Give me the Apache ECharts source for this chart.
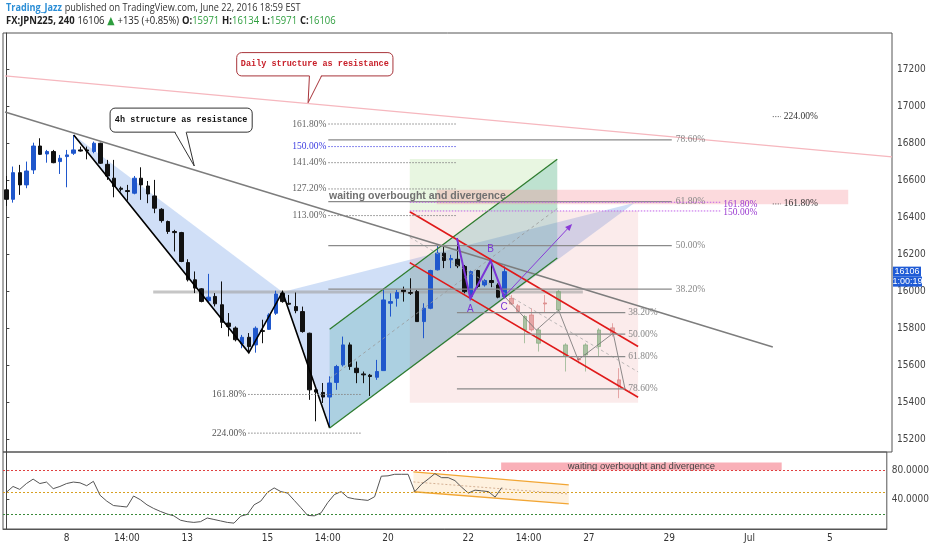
<!DOCTYPE html>
<html><head><meta charset="utf-8">
<script src="https://cdn.jsdelivr.net/npm/echarts@6/dist/echarts.min.js"></script>
<style>html,body{margin:0;padding:0;background:#fff}#c{width:932px;height:550px}</style>
</head><body><div id="c"></div>
<script>
// ---------------- DATA ----------------
const N_SLOTS = 132;
const xLabelIdx = [9,18,27,39,48,57,69,78,87,99,111,123];
const xLabelText = ['8','14:00','13','15','14:00','20','22','14:00','27','29','Jul','5'];
const priceTicks = [15200,15400,15600,15800,16000,16200,16400,16600,16800,17000,17200];
const rsiTicks = [40,80];
const rsiLevels = [80,50,20];
// [open, close, low, high]
const candles = [
[16548,16497,16461,16623],[16497,16641,16479,16674],[16641,16575,16521,16683],[16575,16650,16557,16701],
[16656,16785,16634,16803],[16785,16740,16737,16827],[16742,16755,16695,16764],[16755,16695,16692,16764],
[16701,16719,16634,16737],[16728,16737,16562,16764],[16746,16764,16737,16845],[16764,16758,16755,16782],
[16764,16758,16713,16782],[16755,16800,16746,16809],[16800,16692,16688,16803],[16686,16623,16602,16710],
[16611,16566,16508,16710],[16557,16551,16539,16566],[16544,16539,16490,16575],[16530,16611,16524,16623],
[16611,16575,16494,16670],[16569,16526,16476,16596],[16515,16449,16422,16602],[16443,16382,16371,16449],
[16377,16323,16310,16382],[16323,16317,16215,16332],[16317,16161,16157,16321],[16155,16062,16053,16173],
[16062,16017,15990,16107],[16013,15945,15940,16017],[15949,15968,15940,16094],[15972,15932,15918,15990],
[15927,15832,15801,16053],[15828,15810,15756,15882],[15801,15738,15729,15810],[15715,15751,15692,15764],
[15751,15701,15674,15774],[15710,15800,15668,15810],[15787,15783,15719,15846],[15794,15872,15791,15881],
[15881,15985,15872,16003],[15989,15944,15938,15998],[15935,15930,15926,15980],[15917,15895,15881,15993],
[15890,15782,15776,15917],[15773,15467,15413,15776],[15467,15455,15297,15470],[15453,15428,15396,15504],
[15428,15504,15260,15540],[15507,15593,15467,15602],[15602,15710,15593,15755],[15710,15593,15575,15723],
[15584,15560,15503,15620],[15553,15548,15503,15566],[15546,15539,15434,15553],[15535,15566,15521,15629],
[15571,15953,15571,16016],[15935,15944,15863,15989],[15962,15993,15917,16007],[16007,15998,15944,16025],
[15993,15989,15980,16070],[15998,15836,15836,16007],[15836,15908,15746,15935],[15908,16112,15903,16116],
[16116,16206,16112,16251],[16206,16166,16125,16242],[16170,16177,16125,16197],[16173,16137,16125,16287],
[16134,15998,15989,16142],[15971,16106,15962,16112],[16112,16026,16016,16116],[16034,16058,16025,16065],
[16058,16047,16022,16169],[16034,15968,15962,16043],[15971,16106,15971,16134]
];
// projected (ghost) bars: [slot, open, close, low, high]
const ghostBars = [
[75,15962,15931,15926,15980],[76,15921,15890,15883,15931],[77,15791,15863,15719,15872],
[78,15872,15791,15782,15908],[79,15719,15791,15674,15800],[80,15937,15931,15883,15980],
[82,15899,15998,15890,16007],[83,15647,15710,15566,15719],[85,15634,15629,15610,15650],
[86,15656,15710,15566,15719],[88,15701,15791,15647,15800],[90,15802,15775,15755,15827],
[91,15521,15488,15422,15584]
];
const rsi = [50,58,54,62,68,62,64,55,58,62,64,63,59,65,46,38,32,31,30,45,
40,33,28,24,20.5,18,12,10,9,10,15,13,11,9,8,17.5,20,33,38,50,
56,51,49,39,29,18.5,18,22,36,47,51,43,41,40,39,44,72,72.5,74.6,74.6,
74.6,51,61,68,75.5,70,70,66,57,49,53,52,51,43.5,56.5];

// drawings in [slot, price]
const dailyTrend = [[-0.2,17164],[131.5,16726]];
const h4Trend = [[-0.2,16969],[113.8,15699]];
const zigzag = [[10,16845],[36,15667],[41,15996],[48,15261]];
const blueTri1 = [[10,16845],[36,15667],[41,15996]];
const blueTri2 = [[41,15996],[48,15261],[93.3,16479]];
const greenUpper = [[48,15795],[81.8,16714]];
const greenLower = [[48,15261],[81.8,16180]];
const greenMid = [[48,15528],[81.8,16447]];
const greenBox = [[59.9,16715],[81.8,16434]];
const pinkBox = [[59.9,16434],[93.8,15397]];
const redUpper = [[59.9,16430],[93.8,15701]];
const redLower = [[59.9,16155],[93.8,15427]];
const redMid = [[59.9,16292],[93.8,15564]];
const supportLine = [[21.8,15996],[85.6,15996]];
const waitBox = [[63.9,16548],[125,16470]];
const waitTextAt = [47.9,16515];
const fibUpperLabels = ['161.80%','150.00%','141.40%','127.20%','113.00%'];
const fibUpperPrices = [16904,16782,16695,16553,16409];
const fibUpperSpan = [47.8,66.8];
const fibLowerLabels = ['161.80%','224.00%'];
const fibLowerPrices = [15442,15233];
const fibLowerSpan = [35.9,52.8];
const fibRetLabels = ['78.60%','61.80%','50.00%','38.20%'];
const fibRetPrices = [16818,16484,16247,16011];
const fibRetSpan = [47.8,98.8];
const fibProjLabels = ['38.20%','50.00%','61.80%','78.60%'];
const fibProjPrices = [15884,15768,15647,15472];
const fibProjSpan = [66.9,91.9];
const purpleLabels = ['161.80%','150.00%'];
const purplePrices = [16481,16434];
const purpleSpan = [59.9,106];
const rightLabels = ['224.00%','161.80%'];
const rightPrices = [16944,16472];
const rightAt = 113.8;
const abcPath = [[66.9,16287],[68.9,15960],[71.9,16165],[74,15962]];
const abcLabels = ['A','B','C'];
const abcLabelAt = [[68.9,15904],[71.9,16228],[73.9,15915]];
const arrowFrom = [74,15975], arrowTo = [84,16364];
const ghostPath = [[74,15970],[78.7,15790],[82,15898],[84.9,15629],[90.1,15773],[91.9,15465]];
const callout4h = {text:'4h structure as resistance', box:[[15.4,16990],[36.5,16860]], base:[25.0,26.7], tip:[27.9,16677]};
const calloutDaily = {text:'Daily structure as resistance', box:[[34.2,17290],[57.4,17164]], base:[45.0,46.8], tip:[44.8,17019]};
const lastPrice = 16106, countdown = '1:00:19';
// RSI drawings [slot, value]
const rsiChanUpper = [[60.8,77.9],[84,60.1]];
const rsiChanLower = [[60.8,50.8],[84,34.3]];
const rsiChanMid = [[60.8,64.2],[84,47.7]];
const rsiWaitBox = [[73.9,90.8],[115.8,80.2]];
const waitText = 'waiting overbought and divergence';

// ---------------- BUILD ----------------
const cats = Array.from({length:N_SLOTS},(_,i)=>String(i));
const labelMap = {}; xLabelIdx.forEach((k,j)=>labelMap[k]=xLabelText[j]);
const ghostData = Array.from({length:N_SLOTS},()=>'-');
ghostBars.forEach(g=>{ghostData[g[0]]=[g[1],g[2],g[3],g[4]];});

const SERIF = '9.5px "Liberation Serif", "DejaVu Serif", serif';
const rect = (b)=>[[b[0][0],b[0][1]],[b[1][0],b[0][1]],[b[1][0],b[1][1]],[b[0][0],b[1][1]]];

const fills = [
  {t:'poly', pts:blueTri1, fill:'rgba(80,135,225,0.27)'},
  {t:'poly', pts:blueTri2, fill:'rgba(80,135,225,0.27)'},
  {t:'poly', pts:rect(greenBox), fill:'rgba(150,215,120,0.22)'},
  {t:'poly', pts:rect(pinkBox), fill:'rgba(225,120,120,0.15)'},
  {t:'poly', pts:[greenUpper[0],greenUpper[1],greenLower[1],greenLower[0]], fill:'rgba(60,165,155,0.24)'},
  {t:'poly', pts:rect(waitBox), fill:'rgba(245,140,150,0.32)'},
  {t:'line', pts:supportLine, c:'rgba(160,160,160,0.6)', w:3}
];

const over = [];
over.push({t:'line', pts:dailyTrend, c:'#f6b7be', w:1.2});
over.push({t:'line', pts:h4Trend, c:'#7d7d7d', w:1.5});
over.push({t:'line', pts:ghostPath, c:'#707070', w:0.8});
over.push({t:'line', pts:zigzag, c:'#000', w:1.6});
over.push({t:'line', pts:greenUpper, c:'#2f7d2f', w:1.3});
over.push({t:'line', pts:greenLower, c:'#2f7d2f', w:1.3});
over.push({t:'line', pts:greenMid, c:'#999', w:0.8, d:[3,3]});
over.push({t:'line', pts:redUpper, c:'#e01a1a', w:1.6});
over.push({t:'line', pts:redLower, c:'#e01a1a', w:1.6});
over.push({t:'line', pts:redMid, c:'#aaa', w:0.8, d:[3,3]});
fibUpperLabels.forEach((l,k)=>{
  const col = l==='150.00%' ? '#3c3ce0' : '#666';
  over.push({t:'line', pts:[[fibUpperSpan[0],fibUpperPrices[k]],[fibUpperSpan[1],fibUpperPrices[k]]], c: l==='150.00%'?'#6060e8':'#888', w:1, d:[1.5,1.5]});
  over.push({t:'text', at:[fibUpperSpan[0],fibUpperPrices[k]], text:l, color:col, font:SERIF, align:'right', dx:-2});
});
fibLowerLabels.forEach((l,k)=>{
  over.push({t:'line', pts:[[fibLowerSpan[0],fibLowerPrices[k]],[fibLowerSpan[1],fibLowerPrices[k]]], c:'#888', w:1, d:[1.5,1.5]});
  over.push({t:'text', at:[fibLowerSpan[0],fibLowerPrices[k]], text:l, color:'#555', font:SERIF, align:'right', dx:-2});
});
fibRetLabels.forEach((l,k)=>{
  over.push({t:'line', pts:[[fibRetSpan[0],fibRetPrices[k]],[fibRetSpan[1],fibRetPrices[k]]], c:'#8a8a8a', w:1.2});
  over.push({t:'text', at:[fibRetSpan[1],fibRetPrices[k]], text:l, color:'#888', font:SERIF, align:'left', dx:4});
});
fibProjLabels.forEach((l,k)=>{
  over.push({t:'line', pts:[[fibProjSpan[0],fibProjPrices[k]],[fibProjSpan[1],fibProjPrices[k]]], c:'#8a8a8a', w:1.2});
  over.push({t:'text', at:[fibProjSpan[1],fibProjPrices[k]], text:l, color:'#888', font:SERIF, align:'left', dx:3});
});
purpleLabels.forEach((l,k)=>{
  over.push({t:'line', pts:[[purpleSpan[0],purplePrices[k]],[purpleSpan[1],purplePrices[k]]], c:'#c060e8', w:1, d:[1.5,1.5]});
  over.push({t:'text', at:[purpleSpan[1],purplePrices[k]], text:l, color:'#9a3ad0', font:SERIF, align:'left', dx:3, dy:2});
});
rightLabels.forEach((l,k)=>{
  over.push({t:'dots', at:[rightAt,rightPrices[k]]});
  over.push({t:'text', at:[rightAt,rightPrices[k]], text:l, color:'#333', font:SERIF, align:'left', dx:11});
});
over.push({t:'line', pts:abcPath, c:'#7a34d6', w:2});
abcLabels.forEach((l,k)=>over.push({t:'text', at:abcLabelAt[k], text:l, color:'#7a34d6', font:'10px "Liberation Sans", sans-serif', align:'center'}));
over.push({t:'arrow', from:arrowFrom, to:arrowTo, c:'#8a3ad8'});
over.push({t:'text', at:waitTextAt, text:waitText, color:'#707070', font:'bold 10.5px "Liberation Sans", sans-serif', align:'left'});
over.push(Object.assign({t:'callout', color:'#111', border:'#333'}, callout4h));
over.push(Object.assign({t:'callout', color:'#c8202a', border:'#a8343a'}, calloutDaily));
over.push({t:'tag', at:[N_SLOTS-0.5,lastPrice]});

const rsiShapes = [
  {t:'poly', pts:[rsiChanUpper[0],rsiChanUpper[1],rsiChanLower[1],rsiChanLower[0]], fill:'rgba(250,190,110,0.22)'},
  {t:'line', pts:rsiChanUpper, c:'#f2a634', w:1.4},
  {t:'line', pts:rsiChanLower, c:'#f2a634', w:1.4},
  {t:'line', pts:rsiChanMid, c:'#c9a080', w:0.8, d:[2,2]},
  {t:'poly', pts:rect(rsiWaitBox), fill:'rgba(247,150,160,0.75)'},
  {t:'text', at:[(rsiWaitBox[0][0]+rsiWaitBox[1][0])/2,(rsiWaitBox[0][1]+rsiWaitBox[1][1])/2], text:waitText, color:'#444', font:'9.5px "Liberation Sans", sans-serif', align:'center'}
];

function txt(x,y,s){
  return {type:'text', x:x, y:y, silent:true, style:{text:s.text, fill:s.color, font:s.font, textAlign:s.align||'left', align:s.align||'left', textVerticalAlign:'middle', verticalAlign:'middle'}};
}
function draw(s, api){
  const C = p => api.coord(p);
  if (s.t==='line') return {type:'polyline', silent:true, shape:{points:s.pts.map(C)}, style:{stroke:s.c, lineWidth:s.w||1, lineDash:s.d||null, fill:'none'}};
  if (s.t==='poly') return {type:'polygon', silent:true, shape:{points:s.pts.map(C)}, style:{fill:s.fill, stroke:'none'}};
  if (s.t==='text') { const p=C(s.at); return txt(p[0]+(s.dx||0), p[1]+(s.dy||0), s); }
  if (s.t==='dots') { const p=C(s.at); return {type:'line', silent:true, shape:{x1:p[0],y1:p[1],x2:p[0]+8,y2:p[1]}, style:{stroke:'#555', lineWidth:1, lineDash:[1,1.5]}}; }
  if (s.t==='arrow') {
    const a=C(s.from), b=C(s.to); const ang=Math.atan2(b[1]-a[1], b[0]-a[0]);
    const L=7, W=3; const bx=b[0]-L*Math.cos(ang), by=b[1]-L*Math.sin(ang);
    return {type:'group', children:[
      {type:'line', silent:true, shape:{x1:a[0],y1:a[1],x2:bx,y2:by}, style:{stroke:s.c, lineWidth:1}},
      {type:'polygon', silent:true, shape:{points:[b,[bx-W*Math.sin(ang),by+W*Math.cos(ang)],[bx+W*Math.sin(ang),by-W*Math.cos(ang)]]}, style:{fill:s.c}}
    ]};
  }
  if (s.t==='callout') {
    const a=C(s.box[0]), b=C(s.box[1]);
    const x0=Math.min(a[0],b[0]), y0=Math.min(a[1],b[1]), w=Math.abs(b[0]-a[0]), h=Math.abs(b[1]-a[1]);
    const yb=y0+h; const bx0=C([s.base[0],s.box[1][1]])[0], bx1=C([s.base[1],s.box[1][1]])[0]; const tp=C(s.tip);
    return {type:'group', children:[
      {type:'rect', silent:true, shape:{x:x0,y:y0,width:w,height:h,r:5}, style:{fill:'#fff', stroke:s.border, lineWidth:1}},
      {type:'polygon', silent:true, shape:{points:[[bx0,yb-1.5],tp,[bx1,yb-1.5]]}, style:{fill:'#fff'}},
      {type:'polyline', silent:true, shape:{points:[[bx0,yb],tp,[bx1,yb]]}, style:{stroke:s.border, lineWidth:1, fill:'none'}},
      txt(x0+w/2, y0+h/2, {text:s.text, color:s.color, font:'bold 8.5px "Liberation Mono", "DejaVu Sans Mono", monospace', align:'center'})
    ]};
  }
  if (s.t==='tag') {
    const p=C(s.at); const x=p[0]+1, y=p[1];
    return {type:'group', children:[
      {type:'rect', silent:true, shape:{x:x,y:y-5,width:28,height:10}, style:{fill:'#1f5bd6'}},
      txt(x+14, y, {text:String(lastPrice), color:'#fff', font:'9px "Liberation Sans", sans-serif', align:'center'}),
      {type:'rect', silent:true, shape:{x:x,y:y+5,width:29,height:10}, style:{fill:'#1f5bd6'}},
      txt(x+14.5, y+10, {text:countdown, color:'#fff', font:'9px "Liberation Sans", sans-serif', align:'center'})
    ]};
  }
  return null;
}
const mk = (shapes)=>function(params, api){ return draw(shapes[params.dataIndex], api); };
const shapeData = (shapes, y)=>shapes.map((_,i)=>[0, y]);

const AXF = '"Liberation Sans Narrow", "DejaVu Sans Condensed", "Liberation Sans", sans-serif';
const chart = echarts.init(document.getElementById('c'), null, {renderer:'canvas'});
chart.setOption({
  animation:false,
  backgroundColor:'#fff',
  grid:[
    {left:3, right:40, top:33, height:419, show:true, borderColor:'#555', borderWidth:1},
    {left:3, right:40, top:452, height:77, show:true, borderColor:'#555', borderWidth:1}
  ],
  xAxis:[
    {gridIndex:0, type:'category', data:cats, boundaryGap:true, axisLine:{show:false}, axisTick:{show:false}, axisLabel:{show:false}, splitLine:{show:false}},
    {gridIndex:0, type:'value', min:-0.5, max:N_SLOTS-0.5, show:false},
    {gridIndex:1, type:'category', data:cats, boundaryGap:true, axisLine:{show:true, lineStyle:{color:'#555'}}, axisTick:{show:false},
     axisLabel:{interval:0, formatter:(v,i)=>labelMap[i]||'', fontSize:10, color:'#333', margin:4, fontFamily:AXF}, splitLine:{show:false}},
    {gridIndex:1, type:'value', min:-0.5, max:N_SLOTS-0.5, show:false}
  ],
  yAxis:[
    {gridIndex:0, type:'value', position:'right', min:15131, max:17396, scale:true, splitLine:{show:false},
     axisLine:{show:true, lineStyle:{color:'#444'}}, axisTick:{show:true, length:3, customValues:priceTicks, lineStyle:{color:'#444'}},
     axisLabel:{customValues:priceTicks, formatter:v=>String(Math.round(v)), fontSize:10, color:'#444', margin:5, fontFamily:AXF}},
    {gridIndex:1, type:'value', position:'right', min:0, max:105, splitLine:{show:false},
     axisLine:{show:true, lineStyle:{color:'#444'}}, axisTick:{show:true, length:3, customValues:rsiTicks, lineStyle:{color:'#444'}},
     axisLabel:{customValues:rsiTicks, formatter:v=>Number(v).toFixed(4), fontSize:10, color:'#444', margin:5, fontFamily:AXF}}
  ],
  series:[
    {type:'custom', name:'fills', xAxisIndex:1, yAxisIndex:0, z:1, renderItem:mk(fills), data:shapeData(fills,16000), silent:true},
    {type:'candlestick', name:'JPN225', xAxisIndex:0, yAxisIndex:0, z:3, barWidth:4, data:candles,
     itemStyle:{color:'#1f57cc', color0:'#111', borderColor:'#1f57cc', borderColor0:'#111', borderWidth:1}},
    {type:'candlestick', name:'projection', xAxisIndex:0, yAxisIndex:0, z:3, barWidth:4, data:ghostData,
     itemStyle:{color:'rgba(120,165,115,0.6)', color0:'rgba(215,120,120,0.6)', borderColor:'rgba(120,165,115,0.6)', borderColor0:'rgba(215,120,120,0.6)', borderWidth:1}},
    {type:'custom', name:'drawings', xAxisIndex:1, yAxisIndex:0, z:5, renderItem:mk(over), data:shapeData(over,16000), silent:true},
    {type:'line', name:'RSI', xAxisIndex:2, yAxisIndex:1, z:4, data:rsi, symbol:'none', lineStyle:{color:'#555', width:1},
     markLine:{silent:true, symbol:'none', label:{show:false}, data:[
       {yAxis:rsiLevels[0], lineStyle:{color:'#e04040', type:[2,2], width:1}},
       {yAxis:rsiLevels[1], lineStyle:{color:'#d8a020', type:[2,2], width:1}},
       {yAxis:rsiLevels[2], lineStyle:{color:'#3a8a3a', type:[2,2], width:1}}
     ]}},
    {type:'custom', name:'rsiDrawings', xAxisIndex:3, yAxisIndex:1, z:3, renderItem:mk(rsiShapes), data:shapeData(rsiShapes,50), silent:true}
  ],
  graphic:[
    {type:'text', left:6, top:2, scaleX:0.83, style:{text:'{a|Trading_Jazz} {b|published on TradingView.com, June 22, 2016 18:59 EST}',
      rich:{a:{fill:'#2b8ed6', font:'bold 11px "Open Sans", "Liberation Sans", sans-serif'}, b:{fill:'#333', font:'11px "Open Sans", "Liberation Sans", sans-serif'}}}},
    {type:'text', left:6, top:15, scaleX:0.86, style:{text:'{k|FX:JPN225, 240} {n|16106} {g|▲} {n|+135 (+0.85%)} {k|O:}{g|15971} {k|H:}{g|16134} {k|L:}{g|15971} {k|C:}{g|16106}',
      rich:{k:{fill:'#222', font:'bold 11px "Open Sans", "Liberation Sans", sans-serif'}, n:{fill:'#222', font:'11px "Open Sans", "Liberation Sans", sans-serif'}, g:{fill:'#2e9e3e', font:'11px "Open Sans", "DejaVu Sans", sans-serif'}}}}
  ]
});
</script></body></html>
